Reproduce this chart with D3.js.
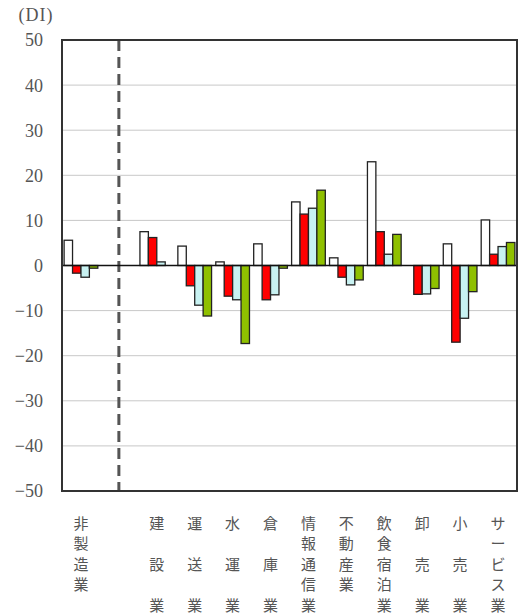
<!DOCTYPE html>
<html>
<head>
<meta charset="utf-8">
<script src="https://cdn.jsdelivr.net/npm/d3@7"></script>
<style>
  html, body { margin: 0; padding: 0; background: #fff; }
  svg { display: block; }
</style>
</head>
<body>
<svg id="chart" width="519" height="615"></svg>
<script>
// Industry categories; the empty slot holds the divider between the total and the breakdown
const categories = ["非製造業", "", "建設業", "運送業", "水運業", "倉庫業", "情報通信業", "不動産業", "飲食宿泊業", "卸売業", "小売業", "サービス業"];
// Four DI series per category (null = no bar)
const seriesA = [5.6, null, 7.5, 4.3, 0.8, 4.8, 14.1, 1.7, 23.0, 0.0, 4.8, 10.1];
const seriesB = [-1.7, null, 6.2, -4.5, -6.8, -7.6, 11.4, -2.6, 7.5, -6.4, -17.0, 2.5];
const seriesC = [-2.6, null, 0.8, -8.8, -7.6, -6.5, 12.7, -4.3, 2.5, -6.3, -11.7, 4.2];
const seriesD = [-0.6, null, 0.0, -11.2, -17.3, -0.6, 16.7, -3.2, 6.9, -5.1, -5.8, 5.1];
const yTicks = [50, 40, 30, 20, 10, 0, -10, -20, -30, -40, -50];

const series = [
  { values: seriesA, fill: "#ffffff" },
  { values: seriesB, fill: "#ff0000" },
  { values: seriesC, fill: "#c8f2f2" },
  { values: seriesD, fill: "#8fc000" }
];

const svg = d3.select("#chart");
const plot = { left: 62, right: 517, top: 40, bottom: 491 };

const x = d3.scaleBand().domain(d3.range(categories.length))
  .range([plot.left, plot.right]).paddingInner(0).paddingOuter(0);
const xInner = d3.scaleBand().domain(d3.range(series.length))
  .range([0, x.bandwidth()]).paddingInner(0).paddingOuter(0.25);
const y = d3.scaleLinear().domain([-50, 50]).range([plot.bottom, plot.top]);

const serif = "'Liberation Serif', 'DejaVu Serif', serif";
const cjk = "'Noto Sans CJK JP', sans-serif";

// Gridlines
svg.append("g").selectAll("line").data(yTicks.filter(d => d !== 50 && d !== -50)).join("line")
  .attr("x1", plot.left).attr("x2", plot.right)
  .attr("y1", d => y(d)).attr("y2", d => y(d))
  .attr("stroke", "#c8c8c8").attr("stroke-width", 1);

// Divider after the total
svg.append("line")
  .attr("x1", x(1) + x.bandwidth() / 2).attr("x2", x(1) + x.bandwidth() / 2)
  .attr("y1", plot.top).attr("y2", plot.bottom)
  .attr("stroke", "#555").attr("stroke-width", 3)
  .attr("stroke-dasharray", "11,6");

// Bars
const groups = svg.append("g").selectAll("g").data(series).join("g");
groups.each(function (s, si) {
  d3.select(this).selectAll("rect")
    .data(s.values.map((v, i) => ({ v, i })).filter(d => d.v !== null && d.v !== 0))
    .join("rect")
    .attr("x", d => x(d.i) + xInner(si))
    .attr("width", xInner.bandwidth())
    .attr("y", d => y(Math.max(0, d.v)))
    .attr("height", d => Math.abs(y(d.v) - y(0)))
    .attr("fill", s.fill)
    .attr("stroke", "#222").attr("stroke-width", 1.3);
});

// Zero line
svg.append("line")
  .attr("x1", plot.left).attr("x2", plot.right)
  .attr("y1", y(0)).attr("y2", y(0))
  .attr("stroke", "#111").attr("stroke-width", 1.5);

// Plot frame
svg.append("rect")
  .attr("x", plot.left).attr("y", plot.top)
  .attr("width", plot.right - plot.left).attr("height", plot.bottom - plot.top)
  .attr("fill", "none").attr("stroke", "#333").attr("stroke-width", 2);

// Y axis labels
const yAxis = d3.axisLeft(y).tickValues(yTicks).tickSize(0).tickPadding(19)
  .tickFormat(d => d < 0 ? "\u2212" + Math.abs(d) : String(d));
const ya = svg.append("g").attr("transform", `translate(${plot.left},0)`).call(yAxis);
ya.select(".domain").remove();
ya.selectAll("text")
  .attr("font-family", serif).attr("font-size", 18).attr("fill", "#555")
  .attr("dy", "0.33em");

svg.append("text").attr("x", 36).attr("y", 21)
  .attr("text-anchor", "middle")
  .attr("font-family", serif).attr("font-size", 18).attr("fill", "#555")
  .attr("letter-spacing", 1)
  .text("(DI)");

// Vertical category labels: 3-character names spread over the full height
const rowY = [522, 542.5, 563, 583.5, 604];
categories.forEach((name, i) => {
  const chars = Array.from(name);
  if (!chars.length) return;
  const rows = chars.length === 3 ? [0, 2, 4] : chars.map((c, k) => k);
  chars.forEach((c, k) => {
    svg.append("text")
      .attr("x", x(i) + x.bandwidth() / 2)
      .attr("y", rowY[rows[k]])
      .attr("text-anchor", "middle").attr("dominant-baseline", "central")
      .attr("font-family", cjk).attr("font-size", 15).attr("fill", "#555")
      .text(c);
  });
});
</script>
</body>
</html>
